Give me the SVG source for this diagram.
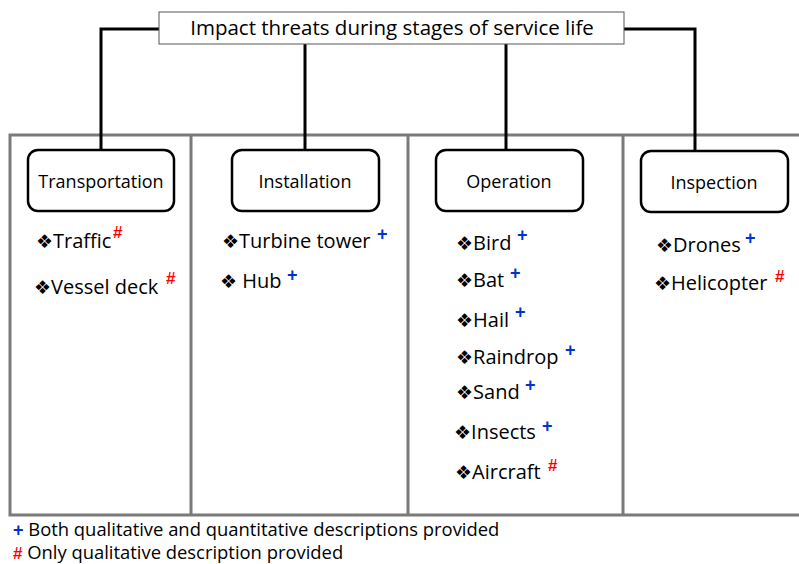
<svg xmlns="http://www.w3.org/2000/svg" width="799" height="564" viewBox="0 0 799 564">
<style>
.t{font-family:"Open Sans","Liberation Sans",sans-serif;fill:#000}
.title{font-size:20.5px}
.stage{font-size:18px}
.item{font-size:20px}
.b{font-family:"DejaVu Sans",sans-serif;font-size:19px;fill:#000}
.p{font-family:"Liberation Sans",sans-serif;font-weight:bold;fill:#0033cc;font-size:18px}
.h{font-family:"Liberation Sans",sans-serif;font-weight:bold;fill:#ff0000;font-size:17px}
.box{fill:#fff;stroke:#000;stroke-width:2.5}
.frame{fill:none;stroke:#7a7a7a;stroke-width:3}
.conn{fill:none;stroke:#000;stroke-width:3}
.leg{font-family:"Open Sans","Liberation Sans",sans-serif;font-size:18.4px;fill:#000}
</style>
<g id="frame">
<path class="frame" d="M799,135 H10 V515 H799"/>
<line class="frame" x1="191" y1="135" x2="191" y2="515"/>
<line class="frame" x1="408" y1="135" x2="408" y2="515"/>
<line class="frame" x1="623" y1="135" x2="623" y2="515"/>
</g>
<g id="connectors">
<path class="conn" d="M159,29 H101 V150"/>
<path class="conn" d="M305,44 V150"/>
<path class="conn" d="M506,44 V150"/>
<path class="conn" d="M624,29 H695 V151"/>
</g>
<g id="root">
<rect x="159" y="12" width="465" height="32" fill="#fff" stroke="#555" stroke-width="1"/>
<text class="t title" x="392" y="35" text-anchor="middle">Impact threats during stages of service life</text>
</g>
<g id="transportation">
<rect class="box" x="28" y="150" width="146" height="61" rx="10"/>
<text class="t stage" x="101" y="188" text-anchor="middle">Transportation</text>
<text x="36" y="248"><tspan class="b">❖</tspan><tspan class="t item">Traffic</tspan></text>
<text class="h" x="113" y="238">#</text>
<text x="34" y="294"><tspan class="b">❖</tspan><tspan class="t item">Vessel deck</tspan></text>
<text class="h" x="166" y="284">#</text>
</g>
<g id="installation">
<rect class="box" x="232" y="150" width="147" height="61" rx="10"/>
<text class="t stage" x="305" y="188" text-anchor="middle">Installation</text>
<text x="222" y="248"><tspan class="b">❖</tspan><tspan class="t item">Turbine tower</tspan></text>
<text class="p" x="377" y="240">+</text>
<text x="220" y="288"><tspan class="b">❖</tspan><tspan class="t item"> Hub</tspan></text>
<text class="p" x="287" y="281">+</text>
</g>
<g id="operation">
<rect class="box" x="436" y="150" width="147" height="61" rx="10"/>
<text class="t stage" x="509" y="188" text-anchor="middle">Operation</text>
<text x="456" y="250"><tspan class="b">❖</tspan><tspan class="t item">Bird</tspan></text>
<text class="p" x="517" y="241">+</text>
<text x="456" y="287"><tspan class="b">❖</tspan><tspan class="t item">Bat</tspan></text>
<text class="p" x="510" y="279">+</text>
<text x="456" y="327"><tspan class="b">❖</tspan><tspan class="t item">Hail</tspan></text>
<text class="p" x="515" y="318">+</text>
<text x="456" y="364"><tspan class="b">❖</tspan><tspan class="t item">Raindrop</tspan></text>
<text class="p" x="565" y="356">+</text>
<text x="456" y="399"><tspan class="b">❖</tspan><tspan class="t item">Sand</tspan></text>
<text class="p" x="525" y="391">+</text>
<text x="454" y="439"><tspan class="b">❖</tspan><tspan class="t item">Insects</tspan></text>
<text class="p" x="542" y="432">+</text>
<text x="455" y="479"><tspan class="b">❖</tspan><tspan class="t item">Aircraft</tspan></text>
<text class="h" x="548" y="471">#</text>
</g>
<g id="inspection">
<rect class="box" x="641" y="151" width="147" height="61" rx="10"/>
<text class="t stage" x="714" y="189" text-anchor="middle">Inspection</text>
<text x="656" y="252"><tspan class="b">❖</tspan><tspan class="t item">Drones</tspan></text>
<text class="p" x="745" y="244">+</text>
<text x="654" y="290"><tspan class="b">❖</tspan><tspan class="t item">Helicopter</tspan></text>
<text class="h" x="775" y="282">#</text>
</g>
<g id="legend">
<text x="13" y="536"><tspan class="p" font-size="17">+</tspan><tspan class="leg"> Both qualitative and quantitative descriptions provided</tspan></text>
<text x="13" y="559"><tspan class="h" font-size="16">#</tspan><tspan class="leg"> Only qualitative description provided</tspan></text>
</g>
</svg>
